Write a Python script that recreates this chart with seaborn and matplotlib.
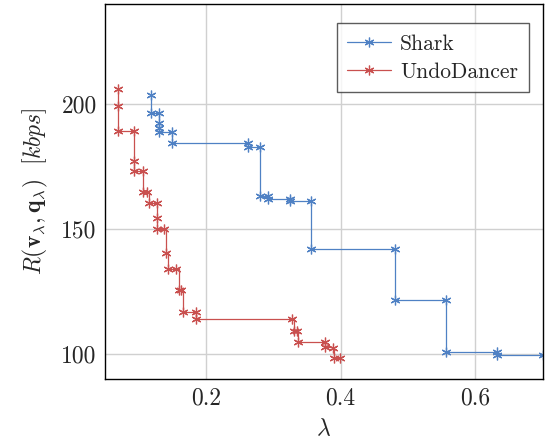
import matplotlib
matplotlib.use("Agg")
import matplotlib.pyplot as plt
import seaborn as sns
import pandas as pd

# Rate vs. lambda, one step curve per sequence (corner points of each step)
shark_lambda = [0.119, 0.119, 0.130, 0.130, 0.130, 0.130, 0.150, 0.150, 0.263, 0.263,
                0.280, 0.280, 0.292, 0.292, 0.325, 0.325, 0.356, 0.356, 0.481, 0.481,
                0.557, 0.557, 0.633, 0.633, 0.700]
shark_rate = [203.7, 196.5, 196.5, 192.2, 190.5, 188.9, 188.9, 184.5, 184.5, 182.8,
              182.8, 163.2, 163.2, 161.9, 161.9, 161.2, 161.2, 141.8, 141.8, 121.5,
              121.5, 100.6, 100.6, 99.4, 99.4]

undo_lambda = [0.0686, 0.0686, 0.0686, 0.093, 0.093, 0.093, 0.107, 0.107, 0.112, 0.115,
               0.127, 0.127, 0.127, 0.138, 0.140, 0.144, 0.156, 0.160, 0.163, 0.166,
               0.185, 0.185, 0.328, 0.331, 0.335, 0.336, 0.377, 0.377, 0.388, 0.390,
               0.399]
undo_rate = [205.9, 199.2, 189.2, 189.2, 177.0, 173.2, 173.2, 164.7, 164.7, 160.4,
             160.4, 154.2, 150.1, 150.1, 140.4, 134.1, 134.1, 125.4, 125.4, 116.7,
             116.7, 113.8, 113.8, 109.1, 109.1, 104.7, 104.7, 102.7, 102.5, 98.2,
             98.2]

series_names = ["Shark", "UndoDancer"]
series_colors = {"Shark": "#4f81c4", "UndoDancer": "#c9504f"}

x_ticks = [0.2, 0.4, 0.6]
y_ticks = [100, 150, 200]

df = pd.concat([
    pd.DataFrame({"lam": shark_lambda, "rate": shark_rate, "seq": series_names[0]}),
    pd.DataFrame({"lam": undo_lambda, "rate": undo_rate, "seq": series_names[1]}),
], ignore_index=True)

sns.set_style("white")
plt.rcParams.update({
    "font.family": "cmr10",
    "mathtext.fontset": "cm",
    "axes.formatter.use_mathtext": True,
    "axes.unicode_minus": False,
    "font.size": 17,
})

fig = plt.figure(figsize=(5.48, 4.43), dpi=100)
ax = fig.add_axes([0.1916, 0.1445, 0.7984, 0.8465])

for name in series_names:
    col = series_colors[name]
    sns.lineplot(data=df[df["seq"] == name], x="lam", y="rate", color=col,
                 sort=False, estimator=None, drawstyle="steps-post",
                 marker=(6, 2, 0), markersize=7, markeredgewidth=0.9,
                 markeredgecolor=col, markerfacecolor=col, dashes=False,
                 linestyle="-", linewidth=0.9, label=name, ax=ax)

ax.set_xlim(0.05, 0.70)
ax.set_ylim(90, 240)
ax.set_xticks(x_ticks)
ax.set_yticks(y_ticks)
ax.set_xticklabels([f"{t:.1f}" for t in x_ticks])
ax.set_yticklabels([str(t) for t in y_ticks])
ax.tick_params(direction="in", length=4, width=0.8, color="#555555",
               labelsize=17, pad=6)
ax.grid(True, color="#d0d0d0", linewidth=1.0)
ax.set_axisbelow(True)
for sp in ax.spines.values():
    sp.set_color("black")
    sp.set_linewidth(1.0)

ax.set_xlabel(r"$\lambda$", fontsize=17, labelpad=6)
ax.set_ylabel(r"$R(\mathbf{v}_\lambda, \mathbf{q}_\lambda)\ \ [kbps]$", fontsize=17,
              labelpad=8)

handles, labels = ax.get_legend_handles_labels()
leg = ax.legend(handles, labels, loc="upper right", bbox_to_anchor=(0.969, 0.9485),
                borderaxespad=0, frameon=True, fancybox=False, fontsize=15.5,
                handlelength=2.0, handletextpad=0.45, borderpad=0.5,
                labelspacing=0.4)
leg.get_frame().set_edgecolor("#333333")
leg.get_frame().set_linewidth(1.0)

fig.savefig("out.png", dpi=100)
